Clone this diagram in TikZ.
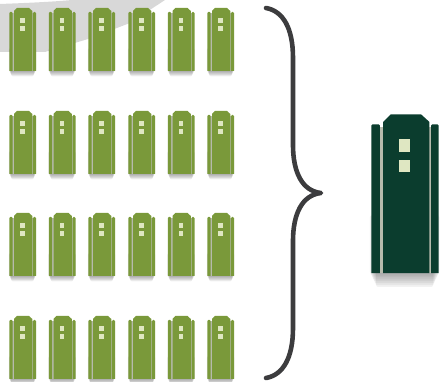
\documentclass[tikz,border=0pt]{standalone}
\usetikzlibrary{calc}
\definecolor{leafgreen}{RGB}{122, 153, 58}
\definecolor{pinegreen}{RGB}{11, 61, 46}
\definecolor{lampgreen}{RGB}{223, 231, 194}
\definecolor{gapgray}{RGB}{182, 186, 172}
\definecolor{bracegray}{RGB}{60, 60, 62}
\definecolor{smear}{RGB}{216, 216, 216}
\tikzset{
    server/.pic={
        % soft shadow
        \foreach \d in {1,2,...,8} {
            \fill[black, opacity=0.05, rounded corners=2pt]
                (\d*0.35-0.6,40) rectangle (27.6-\d*0.35,62.5+\d*0.75);
        }
        \fill[gapgray] (3,5) rectangle (24.5,63);
        % side panels
        \fill[pic actions, rounded corners=1.2] (0.3,63) [sharp corners] -- (0.3,8) [rounded corners=1.2] -- (0.3,4) -- (3.7,4) [sharp corners] -- (3.7,63) -- cycle;
        \fill[pic actions, rounded corners=1.2] (27,63) [sharp corners] -- (27,8) [rounded corners=1.2] -- (27,4) -- (24,4) [sharp corners] -- (24,63) -- cycle;
        % body
        \fill[pic actions] (5,63) -- (5,3) -- (8,0) -- (20,0) -- (23.3,3) -- (23.3,63) -- cycle;
        % lamps
        \fill[lampgreen] (11.2,10) rectangle (15.8,15);
        \fill[lampgreen] (11.2,18) rectangle (15.8,23);
    },
    curlybrace/.style={draw=bracegray, line width=4.6pt, line cap=round, line join=round}
}
\begin{document}
\begin{tikzpicture}[x=1pt, y=-1pt]
    \useasboundingbox (0,0) rectangle (440,382);
    \clip (0,0) rectangle (440,382);

    % Smear behind the first row
    \fill[smear] (0,4) .. controls (25,3) and (50,2) .. (72,0) -- (165,0) -- (130,23) -- (88,39) -- (45,52) -- (0,52) -- cycle;

    % Small servers
    \foreach \row/\ypos in {1/8,2/111,3/213,4/316} {
        \foreach \col/\xpos in {1/9,2/48.5,3/88,4/128,5/167.5,6/207} {
            \pic[fill=leafgreen] (small-\row-\col) at (\xpos,\ypos) {server};
        }
    }

    % Brace
    \coordinate (bracetop) at (266,8);
    \coordinate (bracetip) at (321,193);
    \coordinate (bracebot) at (266,378);
    \draw[curlybrace] (bracetop) .. controls (283,11) and (293,28) .. (293,58)
        -- (293,145) .. controls (293,172) and (302,191) .. (bracetip)
        .. controls (302,195) and (293,214) .. (293,241)
        -- (293,328) .. controls (293,358) and (283,375) .. (bracebot);

    % Big server
    \pic[fill=pinegreen, scale=2.52] (big) at (370.6,114.3) {server};
\end{tikzpicture}
\end{document}
